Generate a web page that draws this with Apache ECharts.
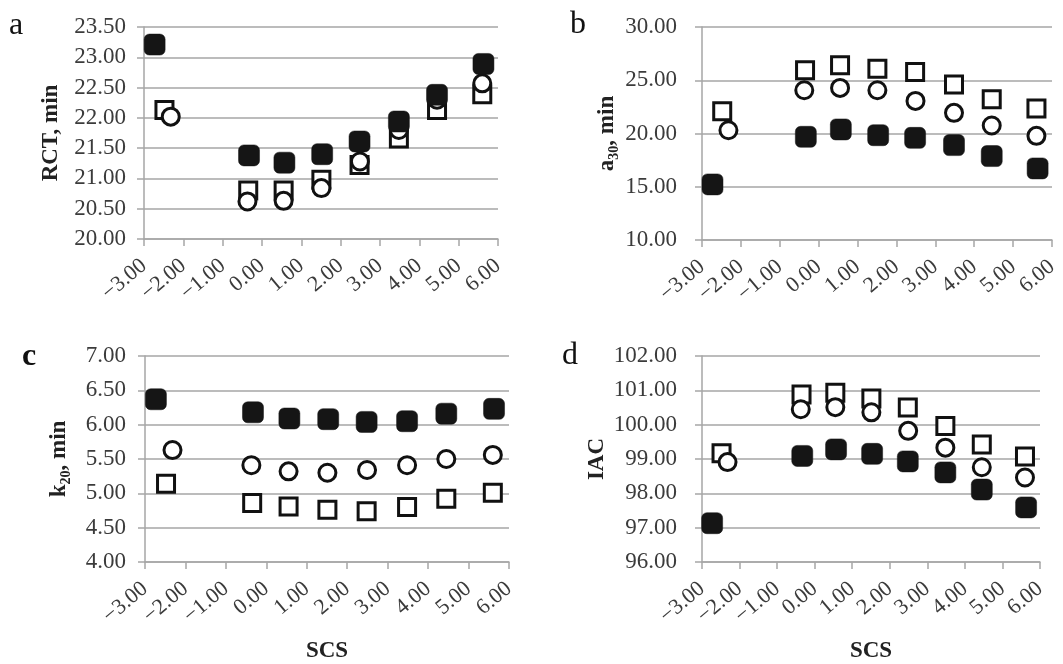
<!DOCTYPE html>
<html>
<head>
<meta charset="utf-8">
<script src="https://cdn.jsdelivr.net/npm/echarts@6/dist/echarts.min.js"></script>
<style>
  html, body { margin: 0; padding: 0; background: #fff; }
  #main { width: 1063px; height: 664px; }
</style>
</head>
<body>
<div id="main"></div>
<script>
// x positions (SCS) of each series
var xFilled = [-2.73, -0.33, 0.57, 1.53, 2.48, 3.48, 4.45, 5.63];
var xSquare = [-2.48, -0.35, 0.55, 1.51, 2.48, 3.48, 4.45, 5.60];
var xCircle = [-2.32, -0.37, 0.55, 1.51, 2.49, 3.48, 4.45, 5.60];

// a: RCT, min
var rctFilled = [23.21, 21.38, 21.26, 21.40, 21.61, 21.94, 22.38, 22.89];
var rctSquare = [22.13, 20.80, 20.80, 20.98, 21.22, 21.66, 22.13, 22.39];
var rctCircle = [22.02, 20.62, 20.63, 20.84, 21.28, 21.80, 22.30, 22.57];

// b: a30, min
var a30Filled = [15.22, 19.69, 20.38, 19.84, 19.59, 18.91, 17.88, 16.72];
var a30Square = [22.09, 25.94, 26.40, 26.09, 25.78, 24.60, 23.22, 22.34];
var a30Circle = [20.31, 24.06, 24.28, 24.06, 23.06, 21.94, 20.75, 19.78];

// c: k20, min
var k20Filled = [6.37, 6.18, 6.09, 6.08, 6.04, 6.05, 6.16, 6.23];
var k20Square = [5.14, 4.86, 4.81, 4.76, 4.74, 4.80, 4.92, 5.01];
var k20Circle = [5.63, 5.41, 5.32, 5.30, 5.34, 5.41, 5.50, 5.56];

// d: IAC
var iacFilled = [97.13, 99.09, 99.28, 99.15, 98.93, 98.61, 98.11, 97.59];
var iacSquare = [99.17, 100.88, 100.93, 100.76, 100.50, 99.96, 99.42, 99.07];
var iacCircle = [98.91, 100.45, 100.51, 100.36, 99.82, 99.33, 98.76, 98.46];

// y axis ranges [min, max, interval]
var yRanges = [[20, 23.5, 0.5], [10, 30, 5], [4, 7, 0.5], [96, 102, 1]];

var FONT = "'Liberation Serif', 'DejaVu Serif', serif";
var GRAY = "#a6a6a6";
var TXT = "#3b3b3b";

function pairs(xs, ys) {
  var out = [];
  for (var i = 0; i < xs.length; i++) out.push([xs[i], ys[i]]);
  return out;
}

function fmtX(v) {
  return (v < 0 ? "\u2212" : "") + Math.abs(v).toFixed(2);
}

var myChart = echarts.init(document.getElementById("main"));

var grids = [
  { left: 144, top: 27, width: 354, height: 212 },
  { left: 702, top: 27, width: 350, height: 213 },
  { left: 145, top: 356, width: 364, height: 213 },
  { left: 702, top: 356, width: 338, height: 213 }
];

var yNames = [
  "RCT, min",
  "{m|a}{s|30}{m|, min}",
  "{m|k}{s|20}{m|, min}",
  "IAC"
];
var yGaps = [81, 81, 72, 93];
var yLabelMargins = [18, 25, 19, 25];

var xAxes = [], yAxes = [], series = [];
var dataSets = [
  [rctFilled, rctSquare, rctCircle],
  [a30Filled, a30Square, a30Circle],
  [k20Filled, k20Square, k20Circle],
  [iacFilled, iacSquare, iacCircle]
];

for (let i = 0; i < 4; i++) {
  xAxes.push({
    gridIndex: i,
    type: "value",
    min: -3,
    max: 6,
    interval: 1,
    name: i >= 2 ? "SCS" : "",
    nameLocation: "middle",
    nameGap: 78,
    nameMoveOverlap: false,
    nameTextStyle: { fontFamily: FONT, fontWeight: "bold", fontSize: 23, color: "#222" },
    axisLine: { show: true, onZero: false, lineStyle: { color: GRAY, width: 1.5 } },
    axisTick: { show: true, inside: false, length: 7, lineStyle: { color: GRAY, width: 1.5 } },
    splitLine: { show: false },
    axisLabel: {
      rotate: 40,
      margin: 24,
      color: TXT,
      fontFamily: FONT,
      fontSize: 22,
      formatter: fmtX
    }
  });
  yAxes.push({
    gridIndex: i,
    type: "value",
    min: yRanges[i][0],
    max: yRanges[i][1],
    interval: yRanges[i][2],
    name: yNames[i],
    nameLocation: "middle",
    nameGap: yGaps[i],
    nameMoveOverlap: false,
    nameTextStyle: {
      fontFamily: FONT, fontWeight: "bold", fontSize: 23, color: "#222",
      rich: {
        m: { fontFamily: FONT, fontWeight: "bold", fontSize: 23, color: "#222", lineHeight: 28 },
        s: { fontFamily: FONT, fontWeight: "bold", fontSize: 14, color: "#222", verticalAlign: "bottom", lineHeight: 28 }
      }
    },
    axisLine: { show: true, onZero: false, lineStyle: { color: GRAY, width: 1.5 } },
    axisTick: { show: true, inside: false, length: 7, lineStyle: { color: GRAY, width: 1.5 } },
    splitLine: { show: true, lineStyle: { color: GRAY, width: 1.5 } },
    axisLabel: {
      margin: yLabelMargins[i],
      color: TXT,
      fontFamily: FONT,
      fontSize: 23,
      formatter: function (v) { return v.toFixed(2); }
    }
  });
  var d = dataSets[i];
  series.push({
    type: "scatter",
    xAxisIndex: i, yAxisIndex: i,
    symbol: "rect",
    symbolSize: 17,
    itemStyle: { color: "#fff", borderColor: "#111", borderWidth: 3, opacity: 1 },
    data: pairs(xSquare, d[1]),
    z: 2
  });
  series.push({
    type: "scatter",
    xAxisIndex: i, yAxisIndex: i,
    symbol: "circle",
    symbolSize: 17,
    itemStyle: { color: "#fff", borderColor: "#111", borderWidth: 3, opacity: 1 },
    data: pairs(xCircle, d[2]),
    z: 3
  });
  series.push({
    type: "scatter",
    xAxisIndex: i, yAxisIndex: i,
    symbol: "roundRect",
    symbolSize: 21,
    itemStyle: { color: "#151515", borderColor: "#151515", borderWidth: 0.5, opacity: 1 },
    data: pairs(xFilled, d[0]),
    z: 4
  });
}

function letter(t, x, y, bold) {
  return {
    type: "text", left: x, top: y,
    style: { text: t, fontFamily: FONT, fontSize: 32, fontWeight: bold ? "bold" : "normal", fill: "#111" }
  };
}

var option = {
  backgroundColor: "#fff",
  animation: false,
  grid: grids,
  xAxis: xAxes,
  yAxis: yAxes,
  series: series,
  graphic: [
    letter("a", 9, 10),
    letter("b", 570, 9),
    letter("c", 22, 341, true),
    letter("d", 562, 340)
  ]
};

myChart.setOption(option, true);
</script>
</body>
</html>
